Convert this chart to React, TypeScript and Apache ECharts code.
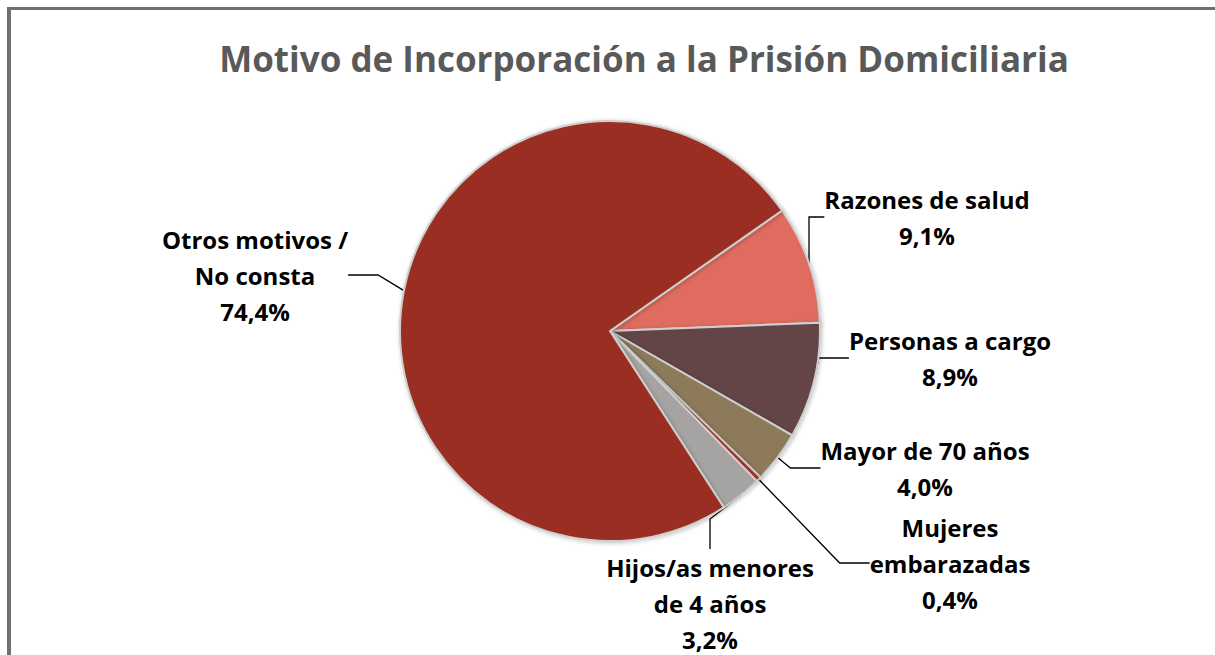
import React, { useEffect, useRef } from "react";
import * as echarts from "echarts";

const titleText = "Motivo de Incorporación a la Prisión Domiciliaria";
const categories = [
  "Razones de salud",
  "Personas a cargo",
  "Mayor de 70 años",
  "Mujeres embarazadas",
  "Hijos/as menores de 4 años",
  "Otros motivos / No consta",
];
const labelNames = [
  "Razones de salud",
  "Personas a cargo",
  "Mayor de 70 años",
  "Mujeres\nembarazadas",
  "Hijos/as menores\nde 4 años",
  "Otros motivos /\nNo consta",
];
const values = [9.1, 8.9, 4.0, 0.4, 3.2, 74.4];
const colors = ["#E06C5E", "#634447", "#8C7A5A", "#B03528", "#A6A3A3", "#9A2D20"];

// label block centres (layout, not data)
const labelAnchors: [number, number][] = [
  [927, 217],
  [950, 358],
  [925, 468],
  [950, 563],
  [710, 603],
  [255, 275],
];

export default function App() {
  const ref = useRef<HTMLDivElement>(null);
  useEffect(() => {
    if (!ref.current) return;
    const chart = echarts.init(ref.current, null, { renderer: "svg" });
    const font = "'Open Sans', 'Noto Sans', sans-serif";
    chart.setOption({
      animation: false,
      backgroundColor: "#ffffff",
      title: {
        text: titleText,
        top: 36,
        left: 639,
        textAlign: "center",
        textStyle: {
          fontFamily: font,
          fontSize: 35,
          fontWeight: "bold",
          color: "#595959",
        },
      },
      graphic: [
        {
          type: "line",
          shape: { x1: 7, y1: 8.5, x2: 1215, y2: 8.5 },
          style: { stroke: "#707070", lineWidth: 3 },
          silent: true,
        },
        {
          type: "line",
          shape: { x1: 9, y1: 7, x2: 9, y2: 655 },
          style: { stroke: "#707070", lineWidth: 4 },
          silent: true,
        },
      ],
      series: [
        {
          type: "pie",
          center: [610, 331],
          radius: 210,
          startAngle: 35,
          clockwise: true,
          avoidLabelOverlap: false,
          itemStyle: {
            borderColor: "#cfcfcf",
            borderWidth: 2,
            shadowBlur: 4,
            shadowColor: "rgba(0,0,0,0.25)",
            shadowOffsetX: 1,
            shadowOffsetY: 1,
          },
          label: {
            show: true,
            position: "outside",
            fontFamily: font,
            fontSize: 24,
            fontWeight: "bold",
            color: "#000000",
            lineHeight: 36,
            align: "center",
            formatter: (p: any) =>
              labelNames[p.dataIndex] +
              "\n" +
              Number(p.value).toFixed(1).replace(".", ",") +
              "%",
          },
          labelLine: {
            show: true,
            lineStyle: { color: "#000000", width: 1.3 },
          },
          labelLayout: (p: any) => {
            const a = labelAnchors[p.dataIndex];
            return { x: a[0], y: a[1], align: "center", verticalAlign: "middle" };
          },
          data: categories.map((c, i) => ({
            name: c,
            value: values[i],
            itemStyle: { color: colors[i] },
          })),
        },
      ],
    });
    return () => chart.dispose();
  }, []);
  return (
    <div
      ref={ref}
      style={{ position: "absolute", left: 0, top: 0, width: 1215, height: 655 }}
    />
  );
}
